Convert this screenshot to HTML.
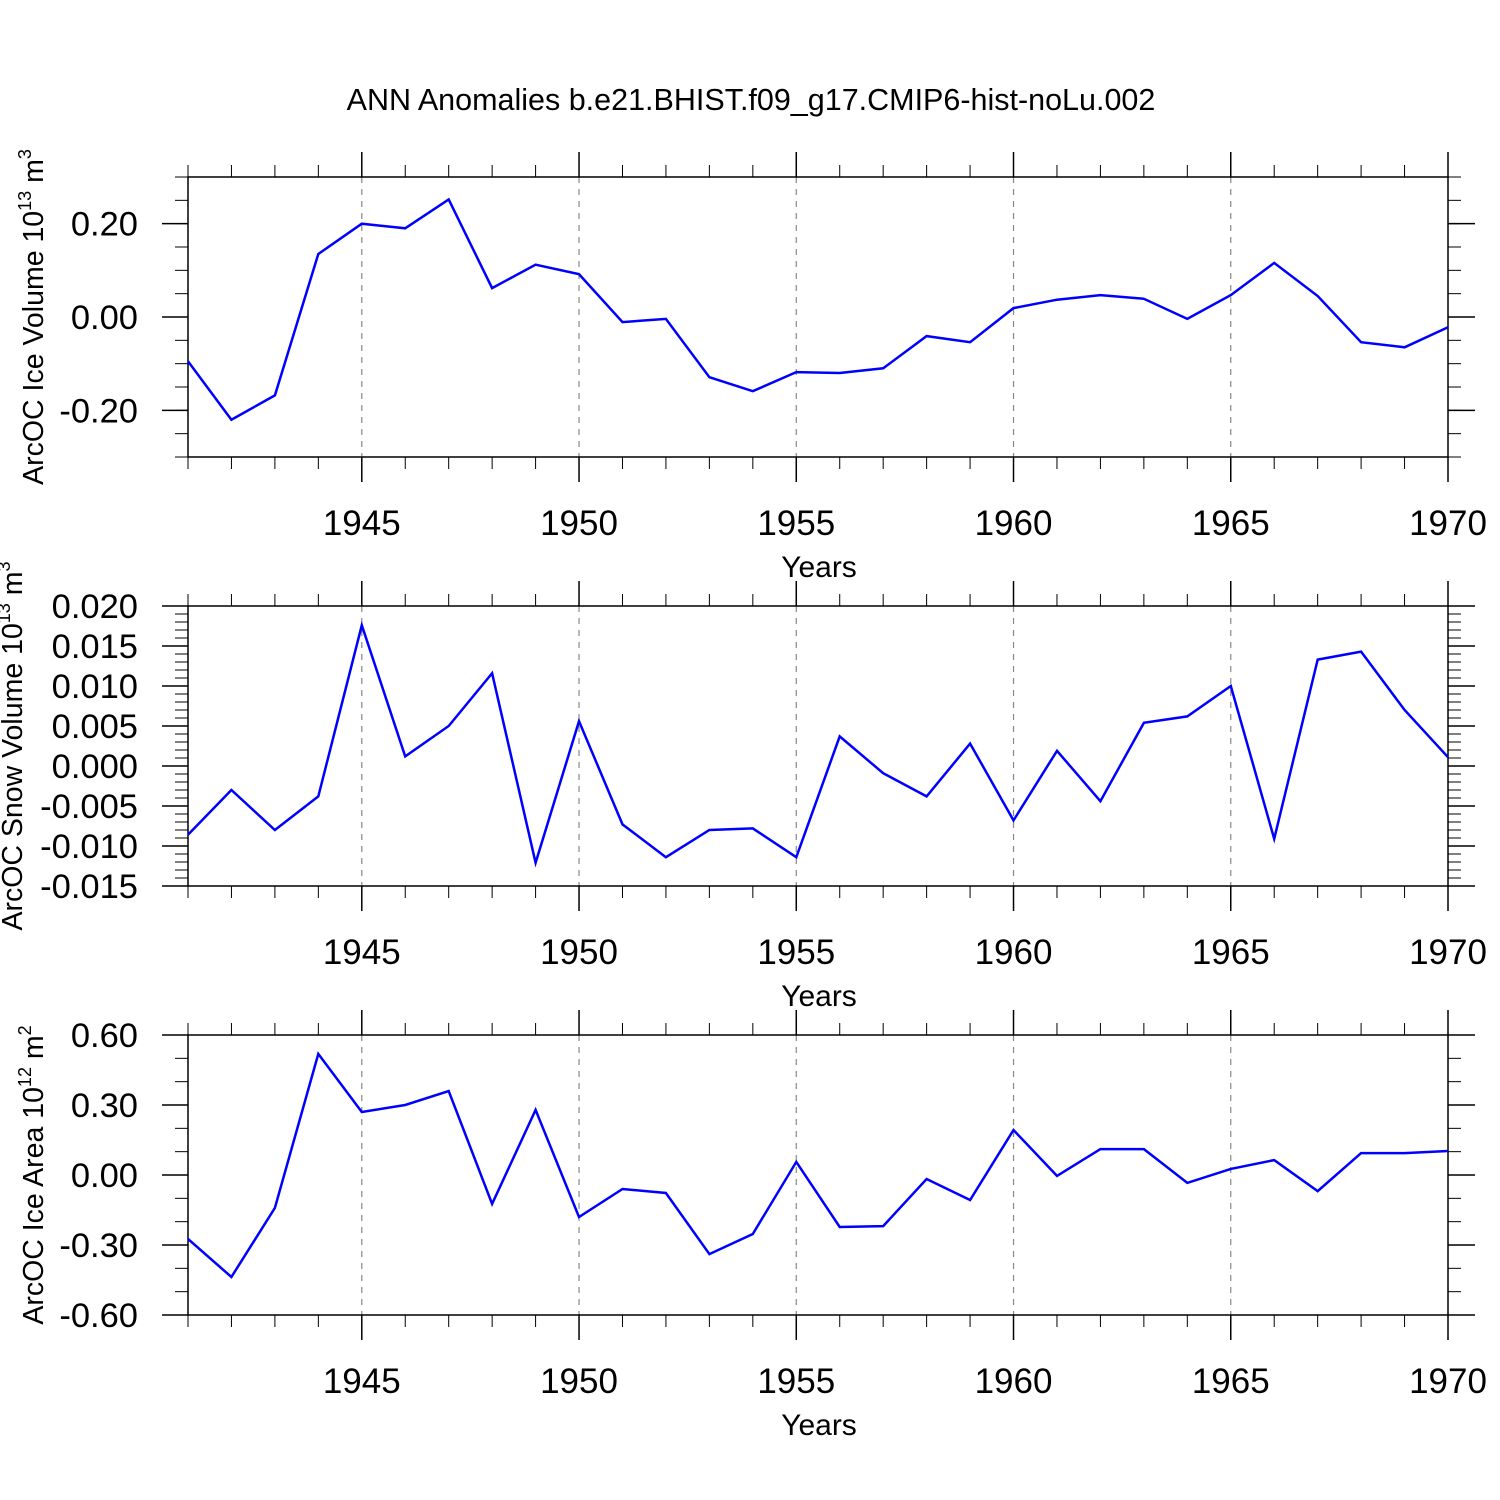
<!DOCTYPE html>
<html><head><meta charset="utf-8">
<style>
body{margin:0;background:#fff;}
svg{display:block;font-family:"Liberation Sans",sans-serif;}
</style></head>
<body>
<svg id="chart" width="1500" height="1500" viewBox="0 0 1500 1500">
<rect width="1500" height="1500" fill="#fff"/>
<text x="751" y="110" font-size="30.5" text-anchor="middle">ANN Anomalies b.e21.BHIST.f09_g17.CMIP6-hist-noLu.002</text>
</svg>
<script>
const years = [1941,1942,1943,1944,1945,1946,1947,1948,1949,1950,1951,1952,1953,1954,1955,1956,1957,1958,1959,1960,1961,1962,1963,1964,1965,1966,1967,1968,1969,1970];
const iceVolume = [-0.095,-0.22,-0.168,0.135,0.2,0.19,0.252,0.062,0.112,0.092,-0.011,-0.004,-0.129,-0.159,-0.118,-0.12,-0.11,-0.041,-0.054,0.019,0.037,0.047,0.039,-0.004,0.047,0.116,0.045,-0.054,-0.065,-0.022];
const snowVolume = [-0.0086,-0.003,-0.008,-0.0038,0.0176,0.0012,0.005,0.0116,-0.0121,0.0056,-0.0073,-0.0114,-0.008,-0.0078,-0.0114,0.0037,-0.0009,-0.0038,0.0028,-0.0068,0.0019,-0.0044,0.0054,0.0062,0.010,-0.0091,0.0133,0.0143,0.007,0.0011];
const iceArea = [-0.274,-0.437,-0.141,0.519,0.27,0.3,0.36,-0.124,0.279,-0.18,-0.06,-0.077,-0.339,-0.253,0.056,-0.223,-0.219,-0.017,-0.107,0.193,-0.004,0.111,0.111,-0.034,0.026,0.064,-0.069,0.094,0.094,0.103];
const xTickLabels = ["1945","1950","1955","1960","1965","1970"];
const iceVolTicks = ["0.20","0.00","-0.20"];
const snowTicks = ["0.020","0.015","0.010","0.005","0.000","-0.005","-0.010","-0.015"];
const areaTicks = ["0.60","0.30","0.00","-0.30","-0.60"];

const NS="http://www.w3.org/2000/svg";
const svg=document.getElementById('chart');
const X0=188,X1=1448,XMIN=1941,XMAX=1970;
function xs(v){return X0+(v-XMIN)/(XMAX-XMIN)*(X1-X0);}
function mk(tag,attrs,parent){const e=document.createElementNS(NS,tag);for(const k in attrs)e.setAttribute(k,attrs[k]);(parent||svg).appendChild(e);return e;}
function line(g,x1,y1,x2,y2,c,w){return mk('line',{x1,y1,x2,y2,stroke:c||'#000','stroke-width':w||1.5},g);}

const panels=[
 {name:'ice-volume',top:177,bot:457,ymin:-0.3,ymax:0.3,data:iceVolume,ticks:iceVolTicks,minor:0.05,lab:'ArcOC Ice Volume 10',sup:'13',unit:' m',usup:'3',lx:33},
 {name:'snow-volume',top:606,bot:886,ymin:-0.015,ymax:0.02,data:snowVolume,ticks:snowTicks,minor:0.001,lab:'ArcOC Snow Volume 10',sup:'13',unit:' m',usup:'3',lx:12},
 {name:'ice-area',top:1035,bot:1315,ymin:-0.6,ymax:0.6,data:iceArea,ticks:areaTicks,minor:0.1,lab:'ArcOC Ice Area 10',sup:'12',unit:' m',usup:'2',lx:33}
];

panels.forEach(p=>{
  const g=mk('g',{});
  
  
  const ys=v=>p.bot-(v-p.ymin)/(p.ymax-p.ymin)*(p.bot-p.top);
  xTickLabels.slice(0,-1).forEach(t=>{
    const gl=line(g,xs(+t),p.top,xs(+t),p.bot,'#888',1.2);
    gl.setAttribute('stroke-dasharray','6,6');
    
    
  });
  const fr=mk('rect',{x:X0,y:p.top,width:X1-X0,height:p.bot-p.top,fill:'none',stroke:'#000','stroke-width':1.5},g);
  
  
  for(let yr=XMIN;yr<=XMAX;yr++){
    const maj=yr%5===0, x=xs(yr), L=maj?25:12;
    line(g,x,p.top,x,p.top-L,'#000',maj?1.5:1);
    line(g,x,p.bot,x,p.bot+L,'#000',maj?1.5:1);
  }
  xTickLabels.forEach(t=>{
    const tx=mk('text',{x:xs(+t),y:p.bot+78,'font-size':35,'text-anchor':'middle'},g);
    tx.textContent=t;
    
    
  });
  const xt=mk('text',{x:819,y:p.bot+120,'font-size':30,'text-anchor':'middle'},g);
  xt.textContent='Years';
  
  
  const n=Math.round((p.ymax-p.ymin)/p.minor);
  for(let i=0;i<=n;i++){const y=ys(p.ymin+i*p.minor);
    line(g,X0,y,X0-13,y,'#000',1);line(g,X1,y,X1+13,y,'#000',1);}
  p.ticks.forEach(t=>{
    const y=ys(+t);
    line(g,X0,y,X0-26,y,'#000',1.5);line(g,X1,y,X1+27,y,'#000',1.5);
    const tx=mk('text',{x:138,y:y+12,'font-size':34.5,'text-anchor':'end'},g);
    tx.textContent=t;
    
    
  });
  const cy=(p.top+p.bot)/2;
  const yl=mk('text',{x:0,y:0,'font-size':28.5,'text-anchor':'middle',transform:`translate(${p.lx+10},${cy}) rotate(-90)`},g);
  
  
  yl.appendChild(document.createTextNode(p.lab));
  const s1=mk('tspan',{'font-size':18,dy:-12},yl);s1.textContent=p.sup;
  const s2=mk('tspan',{dy:12},yl);s2.textContent=p.unit;
  const s3=mk('tspan',{'font-size':18,dy:-12},yl);s3.textContent=p.usup;
  const pts=p.data.map((v,i)=>xs(years[i]).toFixed(1)+','+ys(v).toFixed(1)).join(' ');
  const pl=mk('polyline',{points:pts,fill:'none',stroke:'#0000ff','stroke-width':2.5,'stroke-linejoin':'miter'},g);
  
  
});
</script>
</body></html>
